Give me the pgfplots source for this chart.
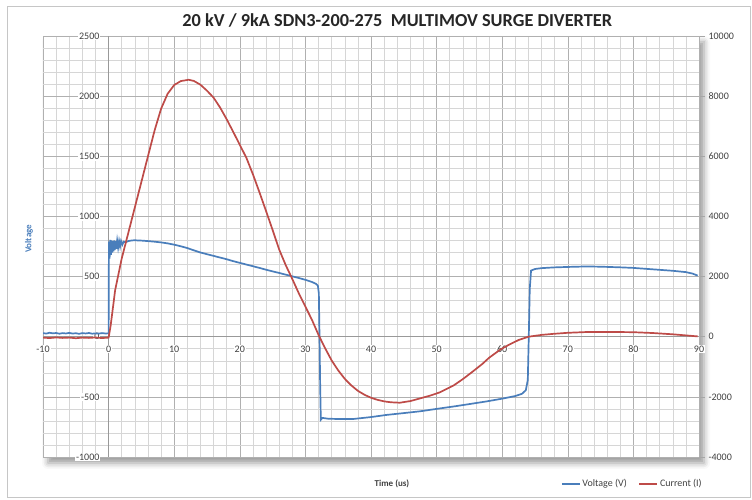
\documentclass[border=0pt]{standalone}
\usepackage{pgfplots}
\pgfplotsset{compat=1.18}
\usepackage{fontspec}
\setmainfont{Carlito}
\usetikzlibrary{shadows.blur}
\definecolor{vblue}{HTML}{4A7EBB}
\definecolor{cred}{HTML}{BE4B48}
\definecolor{gmaj}{HTML}{B0B0B0}
\definecolor{gmin}{HTML}{D6D6D6}
\definecolor{txt}{HTML}{404040}
\begin{document}
\begin{tikzpicture}
\draw[gray!45] (7pt,3pt) rectangle (750pt,494pt);
\path (0,0) rectangle (752pt,500pt);
\begin{axis}[
  set layers,
  at={(43pt,43pt)}, anchor=south west,
  scale only axis, width=656pt, height=421pt,
  xmin=-10, xmax=90, ymin=-1000, ymax=2500,
  axis x line*=middle, axis y line*=middle,
  hide obscured x ticks=false, hide obscured y ticks=false,
  xtick={-10,0,...,90}, ytick={-1000,-500,...,2500},
  xticklabels={-10,0,10,20,30,40,50,60,70,80,90},
  yticklabels={-1000,-500,0,500,1000,1500,2000,2500},
  scaled y ticks=false, scaled x ticks=false,
  minor x tick num=4, minor y tick num=4,
  grid=both,
  major grid style={gmaj, line width=0.6pt},
  minor grid style={gmin, line width=0.5pt},
  axis line style={draw=gray!80, line width=0.9pt},
  tick style={draw=none},
  axis background/.style={fill=white, draw=gmaj, blur shadow={shadow xshift=5pt, shadow yshift=-6pt, shadow blur radius=6pt, shadow opacity=40}},
  ticklabel style={font=\fontsize{10}{12}\selectfont, text=txt, fill=white, inner sep=1pt},
  xticklabel style={yshift=-8pt},
  yticklabel style={xshift=-8pt},
  title={20 kV / 9kA SDN3-200-275~ MULTIMOV SURGE DIVERTER},
  every axis title/.style={at={(axis description cs:0.540,1.038)}, anchor=center, font=\fontsize{18.3}{20}\selectfont\bfseries, text=black!85},
  xlabel={Time (us)},
  every axis x label/.style={at={(axis description cs:0.532,-0.064)}, anchor=center, font=\fontsize{9}{10}\selectfont\bfseries, text=txt},
  ylabel={Voltage},
  every axis y label/.style={at={(axis description cs:-0.0213,0.518)}, anchor=center, rotate=90, font=\fontsize{9}{10}\selectfont\bfseries, text=vblue},
]
\addplot[vblue, line width=1.7pt] coordinates {
(-10,30)(-9.5,26)(-9,33)(-8.5,28)(-8,31)(-7.5,25)(-7,30)(-6.5,27)(-6,32)(-5.5,26)(-5,29)(-4.5,24)(-4,30)(-3.5,27)(-3,31)(-2.5,25)(-2,28)(-1.5,26)(-1,30)(-0.5,27)(0,28)
(0.05,790)(0.15,650)(0.25,805)(0.35,680)(0.45,800)(0.55,700)(0.65,795)(0.75,710)(0.85,800)(0.95,720)(1.05,795)(1.15,730)(1.3,800)(1.45,740)(1.6,795)(1.75,750)(1.9,795)(2.1,765)(2.3,790)(2.6,785)(3,795)(3.5,800)(4,802)(4.5,800)(5,799)(6,795)(7,790)(8,784)(9,776)(10,765)(11,752)(12,737)(13,718)(14,700)(15,686)(16,672)(17,658)(18,644)(19,628)(20,614)(21,600)(22,586)(23,572)(24,557)(25,543)(26,530)(27,516)(28,502)(29,488)(30,473)(31,455)(31.6,440)(31.9,425)(32.05,360)(32.15,0)(32.25,-400)(32.35,-690)(32.6,-675)(33.5,-682)(35,-684)(37.3,-684)(40,-668)(42.4,-650)(45,-635)(47.5,-620)(50,-600)(52.6,-580)(55,-560)(57.6,-538)(60,-515)(62,-493)(63,-475)(63.6,-445)(63.9,-360)(64.05,0)(64.2,400)(64.4,550)(65,563)(66,570)(67.8,576)(70,580)(72.8,584)(75,582)(77.9,577)(80,572)(83,560)(86,548)(88,537)(89,525)(89.8,508)
};
\end{axis}
\begin{axis}[
  set layers,
  at={(43pt,43pt)}, anchor=south west,
  scale only axis, width=656pt, height=421pt,
  xmin=-10, xmax=90, ymin=-4000, ymax=10000,
  axis x line=none, axis y line*=right,
  ytick={-4000,-2000,...,10000},
  yticklabels={-4000,-2000,0,2000,4000,6000,8000,10000},
  scaled y ticks=false,
  axis line style={draw=gmaj, line width=0.6pt},
  tick align=outside, major tick length=6pt,
  ytick style={draw=gray!70, line width=0.6pt},
  yticklabel style={font=\fontsize{10}{12}\selectfont, text=txt, anchor=west},
  legend style={at={(axis description cs:0.785,-0.064)}, anchor=west, draw=none, fill=none, legend columns=2, font=\fontsize{10}{12}\selectfont, text=txt, /tikz/every even column/.append style={column sep=10pt}},
  legend image code/.code={\draw[#1, line width=1.2pt] (0pt,0pt) -- (18pt,0pt);},
]
\addlegendimage{vblue}
\addlegendentry{Voltage (V)}
\addplot[cred, line width=1.7pt] coordinates {
(-10,-30)(-9,-45)(-8,-25)(-7,-40)(-6,-30)(-5,-50)(-4,-30)(-3,-40)(-2,-25)(-1,-45)(0,-30)(0.3,350)(1,1550)(2,2600)(3,3450)(4,4300)(5,5150)(6,6000)(7,6850)(8,7580)(9,8080)(10,8370)(11,8500)(12.2,8545)(13,8505)(14,8380)(15,8180)(16,7950)(17,7620)(18,7230)(19,6810)(20,6380)(21,5950)(22,5400)(23,4800)(24,4180)(25,3550)(26,2900)(27,2380)(28,1920)(29,1440)(30,1000)(31,560)(32,60)(33,-380)(34,-790)(35,-1120)(36,-1400)(37,-1620)(38,-1800)(39,-1930)(40,-2030)(41,-2100)(42,-2150)(43,-2180)(44.4,-2195)(46,-2140)(47.5,-2050)(49,-1960)(50.5,-1850)(52.6,-1620)(54,-1410)(55.5,-1160)(57,-900)(58,-700)(59.7,-430)(61,-270)(62.5,-110)(64,0)(66,60)(67.8,95)(70,130)(72.8,155)(75,160)(77.9,155)(80,150)(83,122)(86,80)(88,44)(89.8,10)
};
\addlegendentry{Current (I)}
\end{axis}
\end{tikzpicture}
\end{document}
